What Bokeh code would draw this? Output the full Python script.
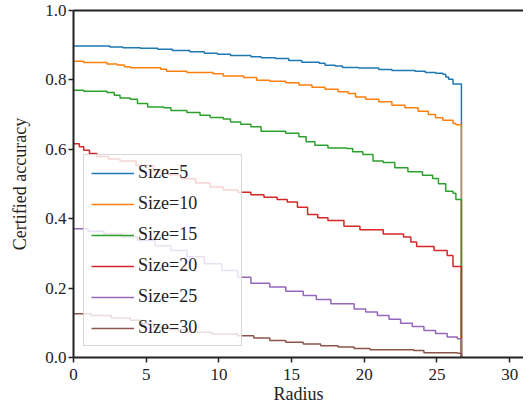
from bokeh.plotting import figure
from bokeh.models import Range1d, FixedTicker, PrintfTickFormatter, LinearAxis, Legend, LegendItem
from bokeh.embed import file_html
from bokeh.resources import INLINE

labels = ["Size=5", "Size=10", "Size=15", "Size=20", "Size=25", "Size=30"]
colors = ["#1f77b4", "#ff7f0e", "#2ca02c", "#d62728", "#9467bd", "#8c564b"]

r5 = [0, 2.5, 3.4, 4.6, 5.8, 6.8, 8.0, 9.0, 9.9, 10.8, 12.2, 12.9, 13.9, 14.8, 15.7, 16.9, 17.3, 18.0, 18.5, 19.6,
      21.0, 21.9, 23.5, 24.2, 24.9, 25.4, 25.6, 25.8, 26.1, 26.68]
a5 = [0.898, 0.895, 0.893, 0.891, 0.888, 0.885, 0.881, 0.877, 0.874, 0.870, 0.867, 0.864, 0.862, 0.856, 0.851, 0.848,
      0.842, 0.840, 0.836, 0.834, 0.830, 0.827, 0.825, 0.821, 0.819, 0.816, 0.808, 0.802, 0.788, 0.0]

r10 = [0, 0.7, 2.3, 3.0, 3.5, 3.9, 6.0, 6.4, 7.8, 9.6, 10.3, 11.7, 12.6, 13.5, 14.6, 15.5, 16.4, 17.3, 18.2, 18.9,
       19.4, 20.1, 21.0, 21.9, 22.8, 23.7, 24.4, 24.9, 25.4, 26.1, 26.3, 26.68]
a10 = [0.854, 0.850, 0.846, 0.843, 0.838, 0.835, 0.831, 0.825, 0.821, 0.818, 0.811, 0.807, 0.799, 0.796, 0.792, 0.785,
       0.779, 0.773, 0.766, 0.761, 0.751, 0.744, 0.737, 0.727, 0.720, 0.710, 0.700, 0.691, 0.684, 0.674, 0.671, 0.0]

r15 = [0, 0.7, 2.3, 2.8, 3.2, 3.9, 4.4, 5.1, 6.2, 6.7, 7.8, 8.7, 9.4, 10.3, 10.8, 11.5, 12.2, 12.9, 14.6, 15.5, 16.0,
       16.6, 17.5, 18.8, 19.2, 19.9, 20.6, 21.3, 22.1, 23.0, 24.0, 24.7, 25.1, 25.6, 26.1, 26.3, 26.68]
a15 = [0.770, 0.767, 0.764, 0.756, 0.748, 0.744, 0.732, 0.722, 0.720, 0.712, 0.706, 0.698, 0.692, 0.687, 0.679, 0.672,
       0.665, 0.652, 0.646, 0.636, 0.622, 0.612, 0.604, 0.602, 0.593, 0.585, 0.566, 0.562, 0.547, 0.535, 0.525, 0.516,
       0.501, 0.479, 0.473, 0.455, 0.0]

r20 = [0, 0.4, 0.7, 1.1, 1.6, 2.4, 3.2, 4.3, 5.5, 6.5, 7.4, 8.4, 9.4, 10.3, 11.3, 12.2, 13.1, 14.0, 14.7, 15.4, 16.1,
       16.8, 17.5, 18.6, 19.7, 21.3, 22.7, 23.2, 23.6, 24.8, 25.7, 26.1, 26.68]
a20 = [0.616, 0.607, 0.597, 0.588, 0.579, 0.572, 0.566, 0.553, 0.539, 0.527, 0.515, 0.503, 0.491, 0.483, 0.476, 0.469,
       0.462, 0.455, 0.448, 0.433, 0.412, 0.403, 0.395, 0.378, 0.368, 0.356, 0.347, 0.333, 0.320, 0.308, 0.294, 0.262, 0.0]

r25 = [0, 1.0, 2.1, 3.3, 4.4, 5.6, 6.7, 7.8, 9.0, 10.2, 11.3, 12.2, 13.5, 14.6, 15.8, 16.7, 17.7, 19.3, 20.1, 20.9,
       21.7, 22.5, 23.3, 24.1, 24.9, 25.7, 26.4, 26.68]
a25 = [0.371, 0.364, 0.356, 0.347, 0.337, 0.322, 0.308, 0.290, 0.270, 0.251, 0.231, 0.214, 0.203, 0.191, 0.179, 0.167,
       0.155, 0.140, 0.131, 0.121, 0.110, 0.099, 0.089, 0.078, 0.069, 0.059, 0.054, 0.0]

r30 = [0, 1.2, 2.6, 3.9, 4.7, 5.5, 6.6, 7.8, 9.5, 11.3, 12.4, 13.5, 14.6, 15.8, 17.0, 18.2, 19.3, 20.4, 23.4, 24.1,
       26.4, 26.68]
a30 = [0.126, 0.121, 0.114, 0.107, 0.097, 0.087, 0.080, 0.073, 0.068, 0.063, 0.056, 0.049, 0.044, 0.039, 0.034, 0.030,
       0.026, 0.022, 0.020, 0.014, 0.012, 0.0]

x_ticks = [0, 5, 10, 15, 20, 25, 30]
y_ticks = [0.0, 0.2, 0.4, 0.6, 0.8, 1.0]

series = [(r5, a5), (r10, a10), (r15, a15), (r20, a20), (r25, a25), (r30, a30)]

FONT = "Liberation Serif"
AX = "#222222"

p = figure(width=523, height=406, x_range=Range1d(0, 30.95), y_range=Range1d(0, 1),
           output_backend="svg", toolbar_location=None,
           min_border_left=73, min_border_right=0, min_border_top=10, min_border_bottom=49)
p.grid.visible = False
p.outline_line_color = None

items = []
for (rx, ay), c, lab in zip(series, colors, labels):
    rr = p.step(rx, ay, mode="after", line_color=c, line_width=1.5)
    items.append(LegendItem(label=lab, renderers=[rr]))

for ax in (p.xaxis[0], p.yaxis[0]):
    ax.axis_line_color = AX
    ax.axis_line_width = 2
    ax.major_tick_line_color = AX
    ax.major_tick_line_width = 1.5
    ax.major_tick_out = 5
    ax.major_tick_in = 0
    ax.minor_tick_line_color = None
    ax.major_label_text_font = FONT
    ax.major_label_text_font_size = "17px"
    ax.major_label_text_color = AX
    ax.axis_label_text_font = FONT
    ax.axis_label_text_font_size = "18px"
    ax.axis_label_text_font_style = "normal"
    ax.axis_label_text_color = AX

p.xaxis.ticker = FixedTicker(ticks=x_ticks)
p.yaxis.ticker = FixedTicker(ticks=y_ticks)
p.yaxis.formatter = PrintfTickFormatter(format="%.1f")
p.xaxis.axis_label = "Radius"
p.yaxis.axis_label = "Certified accuracy"
p.xaxis.major_label_standoff = 6
p.yaxis.major_label_standoff = 2
p.xaxis.axis_label_standoff = 1
p.yaxis.axis_label_standoff = 12
p.xaxis.major_label_text_line_height = 1.0
p.xaxis.axis_label_text_line_height = 1.0

top = LinearAxis(ticker=FixedTicker(ticks=[]), axis_line_color=AX, axis_line_width=2,
                 major_tick_out=0, major_tick_in=0, minor_tick_out=0, minor_tick_in=0,
                 major_label_text_font_size="0px")
p.add_layout(top, "above")

legend = Legend(items=items, location=(10, 11))
legend.glyph_width = 43
legend.glyph_height = 20
legend.label_height = 20
legend.label_width = 96
legend.label_standoff = 4
legend.padding = 7
legend.spacing = 10
legend.margin = 0
legend.label_text_font = FONT
legend.label_text_font_size = "18px"
legend.label_text_color = AX
legend.background_fill_color = "white"
legend.background_fill_alpha = 0.8
legend.border_line_color = "#cccccc"
legend.border_line_alpha = 0.8
legend.border_line_width = 1
p.add_layout(legend, "center")

open("out.html", "w").write(file_html(p, INLINE))
